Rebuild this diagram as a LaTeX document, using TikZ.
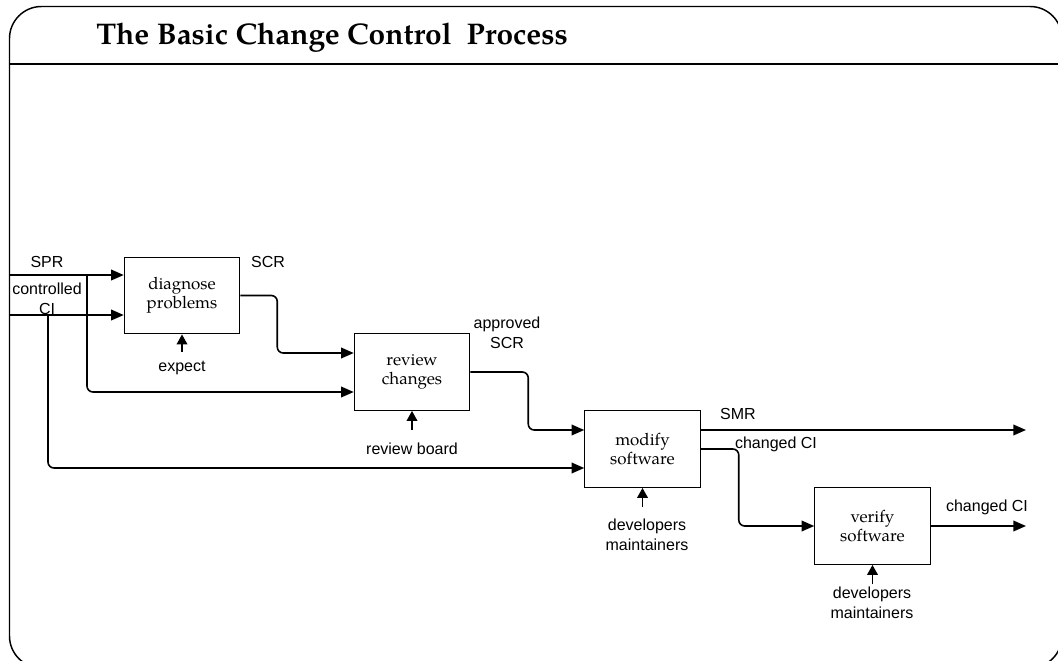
\documentclass[tikz,border=0pt]{standalone}
\usepackage{fontspec}
\setmainfont{TeX Gyre Pagella}
\newfontfamily\labfont{Liberation Sans}
\usetikzlibrary{arrows.meta}

\tikzset{
  procbox/.style={draw, line width=0.9pt, minimum width=86.5pt, minimum height=57.5pt,
    align=center, inner sep=0pt, font=\fontsize{12.7}{14.3}\selectfont},
  flow/.style={line width=1.2pt, rounded corners=4.5pt,
    -{Triangle[length=9.5pt,width=8pt]}},
  ctrl/.style={line width=1.2pt, -{Triangle[length=7.5pt,width=8pt]}},
  lab/.style={align=center, inner sep=0pt, font=\labfont\fontsize{12}{15}\selectfont},
}

\begin{document}
\begin{tikzpicture}[x=0.75pt, y=-0.75pt]
\useasboundingbox (0,0) rectangle (1058,661);
\clip (0,0) rectangle (1058,661);

% outer frame and title band
\draw[line width=1.1pt, rounded corners=24pt] (9.5,6.5) rectangle (1062,668);
\draw[line width=1.1pt] (9.5,64) -- (1062,64);
\node[anchor=base west, inner sep=0pt, font=\fontsize{22.4}{26}\selectfont\bfseries]
  (title) at (96,44) {The Basic Change Control\ \ Process};

% activity boxes
\node[procbox] (diag)   at (182,295.5) {diagnose\\problems};
\node[procbox] (review) at (412,372)   {review\\changes};
\node[procbox] (modify) at (642.5,449) {modify\\software};
\node[procbox] (verify) at (872.5,526) {verify\\software};

% free ends of the connectors
\coordinate (inSPR) at (9.5,275);
\coordinate (inCI)  at (9.5,315);
\coordinate (brSPR) at (87,275);
\coordinate (brCI)  at (48,315);
\coordinate (endSMR) at (1026,430);
\coordinate (endCI)  at (1026,526);
\coordinate (cA) at (182,352);
\coordinate (cB) at (412,430);
\coordinate (cC) at (642.5,507);
\coordinate (cD) at (872.5,584);

% inputs
\draw[flow] (inSPR) -- (diag.west |- inSPR);
\draw[flow] (inCI)  -- (diag.west |- inCI);
\draw[flow] (brSPR) |- ([yshift=-15pt]review.west);
\draw[flow] (brCI)  |- ([yshift=-14.25pt]modify.west);

% outputs feeding the next activity
\draw[flow] (diag.east) -- ++(37,0) |- ([yshift=14.25pt]review.west);
\draw[flow] (review.east) -- ++(58,0) |- ([yshift=14.25pt]modify.west);
\draw[flow] ([yshift=14.25pt]modify.east) -- (endSMR);
\draw[flow] (modify.east) -- ++(38,0) |- (verify.west);
\draw[flow] (verify.east) -- (endCI);

% controls
\draw[ctrl] (cA) -- (diag.south);
\draw[ctrl] (cB) -- (review.south);
\draw[ctrl] (cC) -- (modify.south);
\draw[ctrl] (cD) -- (verify.south);

% labels
\node[lab] (lSPR) at (47,262) {SPR};
\node[lab] (lCI)  at (47,299) {controlled\\CI};
\node[lab] (lSCR) at (268,262) {SCR};
\node[lab] (lexp) at (182,368) {expect};
\node[lab] (lapp) at (507,333) {approved\\SCR};
\node[lab] (lrb)  at (412,449) {review board};
\node[lab] (lSMR) at (738,414) {SMR};
\node[lab] (lch1) at (776,444) {changed CI};
\node[lab] (ldev1) at (647,535) {developers\\maintainers};
\node[lab] (lch2) at (987,507) {changed CI};
\node[lab] (ldev2) at (872,603) {developers\\maintainers};
\end{tikzpicture}
\end{document}
